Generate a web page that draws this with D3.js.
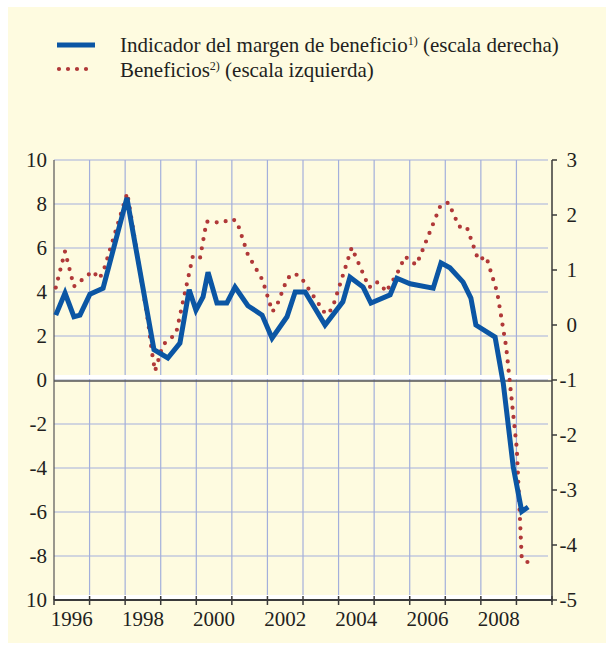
<!DOCTYPE html>
<html>
<head>
<meta charset="utf-8">
<script src="https://cdn.jsdelivr.net/npm/d3@7"></script>
<style>
  html, body { margin: 0; padding: 0; background: #ffffff; }
  svg { display: block; }
</style>
</head>
<body>
<svg id="chart" width="606" height="649"></svg>
<script>
// Indicador del margen de beneficio (escala derecha)
const marginDates = [1996.05, 1996.31, 1996.56, 1996.73, 1997.01, 1997.38, 1998.05, 1998.81, 1999.20, 1999.54,
    1999.80, 1999.99, 2000.19, 2000.33, 2000.58, 2000.86, 2001.09, 2001.45, 2001.85, 2002.13,
    2002.55, 2002.78, 2003.06, 2003.62, 2004.12, 2004.32, 2004.69, 2004.91, 2005.45, 2005.64,
    2006.01, 2006.66, 2006.88, 2007.13, 2007.50, 2007.72, 2007.86, 2008.40, 2008.63, 2008.91,
    2009.15, 2009.33];
const marginValues = [0.18, 0.58, 0.15, 0.18, 0.56, 0.67, 2.31, -0.45, -0.60, -0.33,
    0.64, 0.27, 0.51, 0.96, 0.40, 0.40, 0.69, 0.35, 0.18, -0.24,
    0.15, 0.60, 0.60, 0.00, 0.42, 0.87, 0.69, 0.40, 0.55, 0.85,
    0.75, 0.67, 1.13, 1.04, 0.78, 0.49, 0.00, -0.22, -1.06, -2.58,
    -3.39, -3.31];

// Beneficios (escala izquierda)
const profitDates = [1996.05, 1996.31, 1996.56, 1997.09, 1997.27, 1997.39, 1998.06, 1998.65, 1998.75, 1998.84,
    1999.06, 1999.43, 1999.90, 2000.10, 2000.29, 2000.73, 2000.97, 2001.14, 2001.45, 2001.86,
    2002.14, 2002.28, 2002.56, 2002.75, 2002.94, 2003.64, 2003.82, 2004.37, 2004.86, 2005.05,
    2005.21, 2005.33, 2005.65, 2005.87, 2006.18, 2006.29, 2006.87, 2007.09, 2007.39, 2007.60,
    2007.93, 2008.15, 2008.46, 2008.71, 2009.01, 2009.15, 2009.33];
const profitValues = [4.2, 5.85, 4.25, 4.95, 4.6, 4.95, 8.5, 2.6, 1.3, 0.4,
    1.6, 2.1, 5.6, 5.5, 7.2, 7.15, 7.33, 7.22, 5.7, 4.55,
    3.1, 3.45, 4.62, 4.85, 4.67, 2.98, 3.23, 6.02, 4.2, 4.47,
    4.32, 4.0, 4.85, 5.61, 5.23, 5.62, 7.95, 8.06, 6.97, 6.97,
    5.45, 5.61, 3.98, 1.52, -3.11, -8.14, -8.29];

const yearTicks = d3.range(1996, 2011);
const yearLabels = [1996, 1998, 2000, 2002, 2004, 2006, 2008];
const leftTicks = d3.range(-10, 11, 2);
const leftLabels = ["10", "-8", "-6", "-4", "-2", "0", "2", "4", "6", "8", "10"];
const rightTicks = d3.range(-5, 4, 1);

const svg = d3.select("#chart")
    .attr("font-family", "'Liberation Serif', 'Times New Roman', serif");
const plotLeft = 54, plotRight = 552, plotTop = 160, plotBottom = 600;

const x = d3.scaleLinear().domain([1996, 2010]).range([plotLeft, plotRight]);
const yL = d3.scaleLinear().domain([-10, 10]).range([plotBottom, plotTop]);
const yR = d3.scaleLinear().domain([-5, 3]).range([plotBottom, plotTop]);

// background
svg.append("rect").attr("x", 8).attr("y", 7).attr("width", 598).attr("height", 636)
    .attr("fill", "#fefbe0");

// grid
const grid = svg.append("g").attr("stroke", "#a3afdb").attr("stroke-width", 1.2);
grid.selectAll("line.h").data(leftTicks.filter(d => d > -10)).enter().append("line")
    .attr("class", "h")
    .attr("x1", plotLeft).attr("x2", 548)
    .attr("y1", d => yL(d)).attr("y2", d => yL(d));
grid.selectAll("line.v").data(yearTicks.slice(1, -1)).enter().append("line")
    .attr("class", "v")
    .attr("x1", d => x(d)).attr("x2", d => x(d))
    .attr("y1", plotTop).attr("y2", plotBottom);

// white bands along the zero line and the bottom axis
[yL(0), plotBottom].forEach(yy => {
    svg.append("rect").attr("x", plotLeft).attr("y", yy - 5).attr("width", plotRight - plotLeft).attr("height", 4)
        .attr("fill", "#ffffff");
});

// axis lines
const axisColor = "#3a3a3a";
svg.append("line").attr("x1", plotLeft).attr("x2", plotRight).attr("y1", yL(0) + 1).attr("y2", yL(0) + 1)
    .attr("stroke", "#555").attr("stroke-width", 1.5);
svg.append("line").attr("x1", plotLeft).attr("x2", plotLeft).attr("y1", plotTop).attr("y2", plotBottom)
    .attr("stroke", "#555").attr("stroke-width", 1.2);
svg.append("line").attr("x1", plotRight).attr("x2", plotRight).attr("y1", plotTop).attr("y2", plotBottom + 2)
    .attr("stroke", axisColor).attr("stroke-width", 1.5);
svg.append("line").attr("x1", plotLeft).attr("x2", plotRight).attr("y1", plotBottom).attr("y2", plotBottom)
    .attr("stroke", axisColor).attr("stroke-width", 2);

// bottom ticks
svg.append("g").selectAll("line").data(yearTicks).enter().append("line")
    .attr("x1", d => x(d)).attr("x2", d => x(d))
    .attr("y1", plotBottom - 4).attr("y2", plotBottom + 5)
    .attr("stroke", axisColor).attr("stroke-width", 1.5);

// right ticks
svg.append("g").selectAll("line").data(rightTicks).enter().append("line")
    .attr("x1", plotRight).attr("x2", plotRight + 5)
    .attr("y1", d => yR(d)).attr("y2", d => yR(d))
    .attr("stroke", axisColor).attr("stroke-width", 1.5);

// tick labels
const fs = 21;
const textColor = "#231f20";
svg.append("g").selectAll("text").data(leftTicks).enter().append("text")
    .attr("x", 47).attr("y", d => yL(d) + 7)
    .attr("text-anchor", "end").attr("font-size", fs).attr("fill", textColor)
    .text((d, i) => leftLabels[i]);
svg.append("g").selectAll("text").data(rightTicks).enter().append("text")
    .attr("x", 577).attr("y", d => yR(d) + 7)
    .attr("text-anchor", "end").attr("font-size", fs).attr("fill", textColor)
    .text(d => d);
svg.append("g").selectAll("text").data(yearLabels).enter().append("text")
    .attr("x", d => x(d + 0.5)).attr("y", 626)
    .attr("text-anchor", "middle").attr("font-size", fs).attr("fill", textColor)
    .text(d => d);

// series
const redColor = "#b03838", blueColor = "#0b56a4";
const lineL = d3.line().x(d => x(d[0])).y(d => yL(d[1]));
const lineR = d3.line().x(d => x(d[0])).y(d => yR(d[1]));

svg.append("path")
    .datum(d3.zip(profitDates, profitValues))
    .attr("d", lineL)
    .attr("fill", "none").attr("stroke", redColor)
    .attr("stroke-width", 4.2).attr("stroke-linecap", "round")
    .attr("stroke-dasharray", "0 9.3");

svg.append("path")
    .datum(d3.zip(marginDates, marginValues))
    .attr("d", lineR)
    .attr("fill", "none").attr("stroke", blueColor)
    .attr("stroke-width", 5).attr("stroke-linejoin", "miter");

// legend
const legend = svg.append("g");
legend.append("line").attr("x1", 57).attr("x2", 95).attr("y1", 45).attr("y2", 45)
    .attr("stroke", blueColor).attr("stroke-width", 5);
legend.append("line").attr("x1", 59).attr("x2", 95).attr("y1", 69).attr("y2", 69)
    .attr("stroke", redColor).attr("stroke-width", 4.2).attr("stroke-linecap", "round")
    .attr("stroke-dasharray", "0 9");

const t1 = legend.append("text").attr("x", 120).attr("y", 52).attr("font-size", fs).attr("fill", textColor);
t1.append("tspan").text("Indicador del margen de beneficio");
t1.append("tspan").attr("font-size", 12).attr("dy", -7).text("1)");
t1.append("tspan").attr("dy", 7).text(" (escala derecha)");

const t2 = legend.append("text").attr("x", 120).attr("y", 77).attr("font-size", fs).attr("fill", textColor);
t2.append("tspan").text("Beneficios");
t2.append("tspan").attr("font-size", 12).attr("dy", -7).text("2)");
t2.append("tspan").attr("dy", 7).text(" (escala izquierda)");
</script>
</body>
</html>
